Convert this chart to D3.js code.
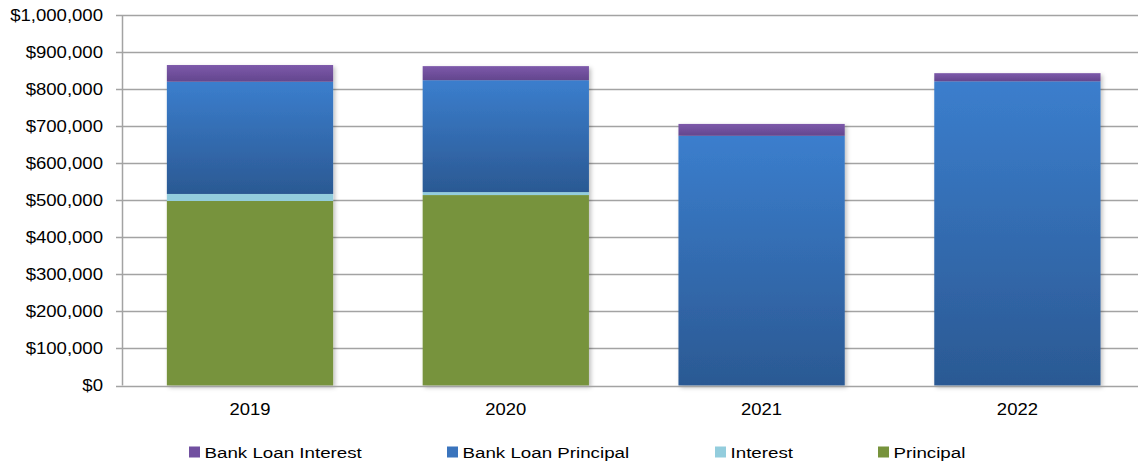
<!DOCTYPE html>
<html>
<head>
<meta charset="utf-8">
<script src="https://cdn.jsdelivr.net/npm/d3@7"></script>
<style>
  html, body { margin: 0; padding: 0; background: #fff; }
  text { font-family: "Liberation Sans", Arial, sans-serif; fill: #000; }
</style>
</head>
<body>
<svg id="chart" width="1138" height="465"></svg>
<script>
const categories = ["2019", "2020", "2021", "2022"];
const seriesNames = ["Principal", "Interest", "Bank Loan Principal", "Bank Loan Interest"];
const principal = [498000, 514000, 0, 0];
const interest = [19000, 8000, 0, 0];
const bankLoanPrincipal = [303000, 302000, 674000, 821000];
const bankLoanInterest = [45000, 38000, 32000, 22000];
const yTicks = [0, 100000, 200000, 300000, 400000, 500000, 600000, 700000, 800000, 900000, 1000000];
const legendOrder = ["Bank Loan Interest", "Bank Loan Principal", "Interest", "Principal"];

const seriesValues = {
  "Principal": principal,
  "Interest": interest,
  "Bank Loan Principal": bankLoanPrincipal,
  "Bank Loan Interest": bankLoanInterest
};
const rows = categories.map((c, i) => {
  const r = { year: c };
  seriesNames.forEach(s => r[s] = seriesValues[s][i]);
  return r;
});

const svg = d3.select("#chart");
const defs = svg.append("defs");

function grad(id, top, bottom) {
  const g = defs.append("linearGradient").attr("id", id)
    .attr("x1", 0).attr("y1", 0).attr("x2", 0).attr("y2", 1);
  g.append("stop").attr("offset", "0%").attr("stop-color", top);
  g.append("stop").attr("offset", "100%").attr("stop-color", bottom);
}
grad("gPurple", "#7d59aa", "#63468e");
grad("gBlue", "#3b7ecd", "#2b5993");
grad("gLightBlue", "#93cddd", "#93cddd");
grad("gGreen", "#77933c", "#77933c");

const f = defs.append("filter").attr("id", "shadow")
  .attr("x", "-10%").attr("y", "-10%").attr("width", "130%").attr("height", "130%");
f.append("feDropShadow").attr("dx", 2).attr("dy", 2).attr("stdDeviation", 2)
  .attr("flood-color", "#000").attr("flood-opacity", 0.25);

const fills = {
  "Principal": "url(#gGreen)",
  "Interest": "url(#gLightBlue)",
  "Bank Loan Principal": "url(#gBlue)",
  "Bank Loan Interest": "url(#gPurple)"
};
const legendColors = {
  "Principal": "#77933c",
  "Interest": "#93cddd",
  "Bank Loan Principal": "#3a74bd",
  "Bank Loan Interest": "#7150a0"
};

const y = d3.scaleLinear().domain([0, 1000000]).range([385.5, 15]);
const x = d3.scaleBand().domain(categories).range([122.1, 1145.3])
  .paddingInner(0.35).paddingOuter(0.175);

const plotLeft = 122, plotRight = 1138;
const sx = 1.16;

// gridlines
svg.append("g").selectAll("line").data(yTicks.filter(d => d > 0)).join("line")
  .attr("x1", plotLeft).attr("x2", plotRight)
  .attr("y1", d => Math.round(y(d)) + 0.5).attr("y2", d => Math.round(y(d)) + 0.5)
  .attr("stroke", "#a3a3a3").attr("stroke-width", 1.5);

// bars
const stack = d3.stack().keys(seriesNames);
const stacked = stack(rows);
const barsG = svg.append("g");
categories.forEach((c, i) => {
  const g = barsG.append("g").attr("filter", "url(#shadow)");
  stacked.forEach(layer => {
    const d = layer[i];
    if (d[1] - d[0] <= 0) return;
    g.append("rect")
      .attr("x", x(c)).attr("width", x.bandwidth())
      .attr("y", y(d[1])).attr("height", y(d[0]) - y(d[1]))
      .attr("fill", fills[layer.key]);
  });
});

// axes lines
svg.append("line").attr("x1", plotLeft + 0.5).attr("x2", plotLeft + 0.5)
  .attr("y1", y(1000000)).attr("y2", y(0))
  .attr("stroke", "#a3a3a3").attr("stroke-width", 1.5);
svg.append("line").attr("x1", plotLeft).attr("x2", plotRight)
  .attr("y1", Math.round(y(0)) + 0.5).attr("y2", Math.round(y(0)) + 0.5)
  .attr("stroke", "#a3a3a3").attr("stroke-width", 1.5);
svg.append("g").selectAll("line").data(yTicks).join("line")
  .attr("x1", plotLeft - 6).attr("x2", plotLeft)
  .attr("y1", d => Math.round(y(d)) + 0.5).attr("y2", d => Math.round(y(d)) + 0.5)
  .attr("stroke", "#a3a3a3").attr("stroke-width", 1.5);

// y labels
const fmt = d3.format("$,");
svg.append("g").selectAll("text").data(yTicks).join("text")
  .attr("transform", d => `translate(103,${y(d) + 5.8}) scale(${sx},1)`)
  .attr("text-anchor", "end").attr("font-size", 16)
  .text(d => fmt(d));

// x labels
svg.append("g").selectAll("text").data(categories).join("text")
  .attr("transform", d => `translate(${x(d) + x.bandwidth() / 2},414.5) scale(1.12,1)`)
  .attr("text-anchor", "middle").attr("font-size", 16.5)
  .text(d => d);

// legend
const legendX = [189, 447, 715, 878];
const lg = svg.append("g");
legendOrder.forEach((name, i) => {
  lg.append("rect").attr("x", legendX[i]).attr("y", 446.5).attr("width", 11).attr("height", 11)
    .attr("fill", legendColors[name]);
  lg.append("text")
    .attr("transform", `translate(${legendX[i] + 15.5},457.8) scale(1.21,1)`)
    .attr("font-size", 15.5)
    .text(name);
});
</script>
</body>
</html>
